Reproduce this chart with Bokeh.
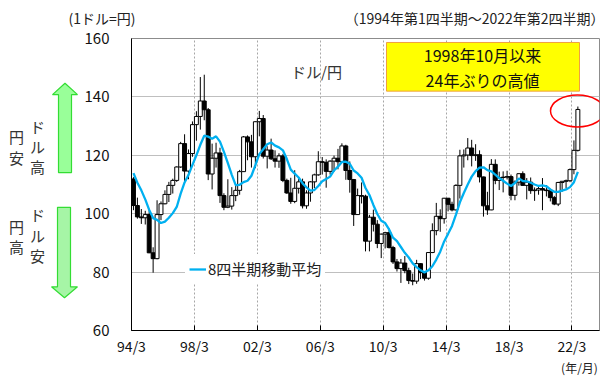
from bokeh.plotting import figure
from bokeh.layouts import column, row
from bokeh.models import ColumnDataSource, FixedTicker, Label, Legend, LegendItem, Range1d
from bokeh.embed import file_html
from bokeh.resources import INLINE
from bokeh.core.properties import value

FONT = "Noto Sans CJK JP"

# ---- data (USD/JPY quarterly, 1994Q1 - 2022Q2) ----
open_ = [111.9, 102.8, 98.9, 98.6, 99.7, 86.6, 84.6, 99.7,
         103.4, 106.6, 109.7, 111.4, 116.0, 124.0, 114.6, 120.6,
         130.5, 133.3, 138.6, 135.6, 113.6, 119.0, 120.8, 106.2,
         102.2, 102.6, 106.2, 108.0, 114.4, 126.3, 124.6, 119.5,
         131.5, 132.6, 119.7, 121.8, 118.8, 118.0, 119.8, 111.4,
         107.1, 104.2, 108.7, 110.9, 102.7, 107.1, 110.9, 113.3,
         117.8, 117.6, 114.5, 118.0, 119.0, 117.8, 123.2, 114.8,
         111.7, 99.7, 106.2, 106.0, 90.6, 98.8, 96.4, 89.8,
         93.0, 93.5, 88.4, 83.5, 81.2, 83.1, 80.5, 77.1,
         76.9, 82.9, 79.8, 77.9, 86.7, 94.2, 99.1, 98.3,
         105.3, 103.2, 101.3, 109.7, 119.8, 120.1, 122.5, 119.9,
         120.2, 112.6, 102.7, 101.3, 116.9, 111.4, 112.4, 112.5,
         112.7, 106.3, 110.8, 113.7, 109.7, 110.8, 107.9, 108.1,
         108.6, 108.1, 107.9, 105.5, 103.3, 110.7, 111.1, 111.3,
         115.1, 121.7]
high = [112.5, 105.5, 101.6, 101.0, 101.5, 88.5, 104.6, 104.2,
        108.0, 110.9, 112.0, 116.2, 124.6, 127.2, 122.0, 131.6,
        135.1, 146.8, 147.6, 136.2, 124.0, 124.3, 122.6, 107.0,
        111.8, 109.1, 110.0, 115.0, 126.6, 126.8, 127.0, 131.6,
        135.2, 133.8, 123.1, 125.7, 121.7, 120.7, 120.5, 112.0,
        112.3, 114.9, 112.2, 112.0, 108.0, 111.2, 113.7, 121.4,
        119.4, 118.6, 118.3, 119.9, 122.2, 124.1, 123.6, 117.9,
        111.9, 108.6, 110.7, 106.5, 99.6, 101.4, 97.8, 93.2,
        93.8, 94.9, 89.0, 84.5, 84.5, 85.5, 81.5, 79.5,
        84.2, 83.0, 80.2, 86.8, 96.7, 103.7, 101.5, 105.4,
        105.4, 104.1, 110.1, 121.9, 122.0, 125.9, 125.3, 123.8,
        121.7, 112.7, 107.5, 118.7, 118.6, 114.4, 114.5, 114.7,
        113.4, 111.4, 113.8, 114.5, 112.2, 112.4, 109.0, 109.7,
        112.2, 109.8, 108.0, 106.1, 110.9, 111.1, 111.7, 115.5,
        125.1, 136.7]
low = [101.2, 98.3, 96.5, 96.3, 86.5, 79.8, 84.4, 97.8,
       103.2, 104.0, 106.9, 110.9, 115.7, 110.6, 111.8, 119.5,
       125.0, 128.8, 132.0, 111.5, 108.3, 115.8, 103.7, 101.2,
       101.9, 101.4, 104.3, 106.5, 114.3, 118.3, 115.8, 115.6,
       126.5, 118.9, 115.5, 118.4, 115.8, 115.7, 110.8, 106.8,
       103.4, 103.6, 106.9, 101.8, 101.7, 104.1, 108.8, 113.0,
       113.4, 108.9, 113.4, 114.4, 115.2, 117.6, 111.6, 107.2,
       95.8, 99.6, 103.5, 87.1, 87.1, 93.9, 88.2, 84.8,
       88.1, 88.1, 82.8, 80.2, 76.3, 79.6, 75.9, 75.5,
       76.0, 77.6, 77.1, 77.4, 86.5, 92.6, 93.8, 96.6,
       100.8, 100.8, 101.1, 105.2, 115.8, 118.3, 116.2, 118.1,
       110.7, 99.0, 99.6, 101.2, 110.1, 108.1, 107.3, 111.7,
       104.6, 104.6, 109.6, 109.6, 104.9, 106.8, 104.4, 106.5,
       101.2, 105.9, 104.2, 102.9, 102.6, 107.5, 108.7, 110.8,
       113.5, 121.3]
close = [102.8, 98.9, 98.6, 99.7, 86.6, 84.6, 99.7, 103.4,
         106.6, 109.7, 111.4, 116.0, 124.0, 114.6, 120.6, 130.5,
         133.3, 138.6, 135.6, 113.6, 119.0, 120.8, 106.2, 102.2,
         102.6, 106.2, 108.0, 114.4, 126.3, 124.6, 119.5, 131.5,
         132.6, 119.7, 121.8, 118.8, 118.0, 119.8, 111.4, 107.1,
         104.2, 108.7, 110.9, 102.7, 107.1, 110.9, 113.3, 117.8,
         117.6, 114.5, 118.0, 119.0, 117.8, 123.2, 114.8, 111.7,
         99.7, 106.2, 106.0, 90.6, 98.8, 96.4, 89.8, 93.0,
         93.5, 88.4, 83.5, 81.2, 83.1, 80.5, 77.1, 76.9,
         82.9, 79.8, 77.9, 86.7, 94.2, 99.1, 98.3, 105.3,
         103.2, 101.3, 109.7, 119.8, 120.1, 122.5, 119.9, 120.2,
         112.6, 102.7, 101.3, 116.9, 111.4, 112.4, 112.5, 112.7,
         106.3, 110.8, 113.7, 109.7, 110.8, 107.9, 108.1, 108.6,
         108.1, 107.9, 105.5, 103.3, 110.7, 111.1, 111.3, 115.1,
         121.7, 135.7]
ma8 = [113.9, 110.6, 108.0, 104.9, 101.3, 98.5, 97.9, 96.8,
       97.3, 98.6, 100.2, 102.3, 106.9, 110.7, 113.3, 116.7,
       120.0, 123.6, 126.7, 126.4, 125.7, 126.5, 124.7, 121.2,
       117.3, 113.3, 109.8, 109.9, 110.8, 111.3, 113.0, 116.6,
       120.4, 122.1, 123.8, 124.4, 123.3, 122.7, 121.7, 118.7,
       115.1, 113.7, 112.4, 110.4, 109.0, 107.9, 108.1, 109.5,
       111.1, 111.9, 112.7, 114.8, 116.1, 117.7, 117.8, 117.1,
       114.8, 113.8, 112.3, 108.8, 106.4, 103.0, 99.9, 97.6,
       96.8, 94.6, 91.8, 90.6, 88.6, 86.6, 85.0, 83.0,
       81.7, 80.6, 79.9, 80.6, 82.0, 84.3, 87.0, 90.5,
       93.1, 95.8, 99.7, 103.9, 107.1, 110.0, 112.7, 114.6,
       115.8, 115.9, 114.9, 114.5, 113.4, 112.2, 111.3, 110.3,
       109.5, 110.5, 112.1, 111.2, 111.1, 110.6, 110.0, 109.5,
       109.7, 109.4, 108.3, 107.5, 107.5, 107.9, 108.3, 109.1,
       110.8, 114.3]
tick_labels = ["94/3", "98/3", "02/3", "06/3", "10/3", "14/3", "18/3", "22/3"]
y_ticks = [60, 80, 100, 120, 140, 160]

n = len(close)
xs = [i + 0.5 for i in range(n)]
tick_pos = [16 * i for i in range(len(tick_labels))]

src = ColumnDataSource(dict(
    x=xs, o=open_, h=high, l=low, c=close,
    top=[max(a, b) for a, b in zip(open_, close)],
    bot=[min(a, b) for a, b in zip(open_, close)],
    col=["white" if c >= o else "black" for o, c in zip(open_, close)],
))

# ---------------- geometry of the page ----------------
W, H = 606, 376
HEAD_H = 28          # header strip height
FOOT_H = 18          # footer strip height
LEFT_W = 80          # left strip (arrows) width
MAIN_W = W - LEFT_W
MAIN_H = H - HEAD_H - FOOT_H
FRAME_L, FRAME_R = 131, 599
FRAME_T, FRAME_B = 38, 332
BORDER_T = FRAME_T - HEAD_H
BORDER_B = (H - FOOT_H) - FRAME_B
XMAX = 119


def bare_fig(width, height, x0, x1, y0, y1, bt=0, bb=0):
    f = figure(width=width, height=height, output_backend="svg", toolbar_location=None,
               x_range=Range1d(x0, x1), y_range=Range1d(y0, y1),
               x_axis_type=None, y_axis_type=None,
               min_border=0, min_border_left=0, min_border_right=0,
               min_border_top=bt, min_border_bottom=bb,
               background_fill_color="white", border_fill_color="white")
    f.outline_line_color = None
    f.grid.visible = False
    return f

# ---------------- header strip ----------------
head = bare_fig(W, HEAD_H, 0, W, HEAD_H, 0)
head.text(x=[68], y=[17], text=["(1ドル=円)"], text_align="left", text_baseline="middle",
          text_font=value(FONT), text_font_size="14px", text_color="#222222")
head.text(x=[604], y=[17], text=["（1994年第1四半期～2022年第2四半期）"], text_align="right",
          text_baseline="middle", text_font=value(FONT), text_font_size="14px",
          text_color="#222222")

# ---------------- left strip (arrows + captions), frame aligned with main frame ----------------
left = bare_fig(LEFT_W, MAIN_H, 0, LEFT_W, FRAME_B, FRAME_T, bt=BORDER_T, bb=BORDER_B)
up = [(64.5, 83), (77, 94.5), (71, 94.5), (71, 173), (58, 173), (58, 94.5), (52, 94.5)]
dn = [(57, 208), (70, 208), (70, 288), (77, 288), (64, 299), (51, 288), (57, 288)]
left.patches(xs=[[a for a, b in up], [a for a, b in dn]],
             ys=[[b for a, b in up], [b for a, b in dn]],
             fill_color=["#99FF99", "#A6F5A6"], line_color="#33DD33", line_width=1.2)
chars = [("円", 16, 137), ("安", 16, 158), ("ド", 37, 127), ("ル", 37, 147), ("高", 37, 167),
         ("円", 16, 227), ("高", 16, 247), ("ド", 37, 215), ("ル", 37, 236), ("安", 37, 256)]
left.text(x=[c[1] for c in chars], y=[c[2] for c in chars], text=[c[0] for c in chars],
          text_align="center", text_baseline="middle", text_font=value(FONT),
          text_font_size="15px", text_color="#333333")

# ---------------- main chart ----------------
p = figure(width=MAIN_W, height=MAIN_H, output_backend="svg", toolbar_location=None,
           x_range=Range1d(0, XMAX), y_range=Range1d(60, 160),
           min_border_left=FRAME_L - LEFT_W, min_border_right=W - FRAME_R,
           min_border_top=BORDER_T, min_border_bottom=BORDER_B,
           background_fill_color="white", border_fill_color="white")
p.outline_line_color = "#8c8c8c"

FW, FH = float(FRAME_R - FRAME_L), float(FRAME_B - FRAME_T)
def dx(px):
    return (px - FRAME_L) / (FW / XMAX)
def dy(py):
    return 160 - (py - FRAME_T) / (FH / 100.0)

p.xaxis.ticker = FixedTicker(ticks=tick_pos)
p.xaxis.major_label_overrides = {t: s for t, s in zip(tick_pos, tick_labels)}
p.xaxis.major_tick_in = 5
p.xaxis.major_tick_out = 0
p.xaxis.minor_tick_line_color = None
p.xaxis.axis_line_color = "black"
p.xaxis.major_tick_line_color = "black"
p.xaxis.major_label_standoff = 5
p.xaxis.major_label_text_font = FONT
p.xaxis.major_label_text_font_size = "14px"
p.xaxis.major_label_text_color = "#111111"

p.yaxis.ticker = FixedTicker(ticks=y_ticks)
p.yaxis.major_tick_in = 0
p.yaxis.major_tick_out = 0
p.yaxis.minor_tick_line_color = None
p.yaxis.axis_line_color = "black"
p.yaxis.major_label_standoff = 22
p.yaxis.major_label_text_font = FONT
p.yaxis.major_label_text_font_size = "15px"
p.yaxis.major_label_text_color = "#111111"

p.xgrid.ticker = FixedTicker(ticks=tick_pos)
p.xgrid.grid_line_color = "#a6a6a6"
p.xgrid.grid_line_dash = "2 2"
p.ygrid.grid_line_color = "#bfbfbf"

# candles
p.segment(x0="x", y0="h", x1="x", y1="l", source=src, line_color="black", line_width=1)
p.vbar(x="x", width=1.0, top="top", bottom="bot", source=src,
       fill_color="col", line_color="black", line_width=1)

# moving average
ma_r = p.line(xs, ma8, line_color="#00B0F0", line_width=2.3)

legend = Legend(items=[LegendItem(label="8四半期移動平均", renderers=[ma_r])],
                location=(54, 47), orientation="vertical",
                label_text_font=FONT, label_text_font_size="15px", label_text_color="#222222",
                glyph_width=17, glyph_height=20, label_height=20, label_standoff=2,
                padding=4, margin=0, spacing=0,
                border_line_alpha=0, background_fill_color="white", background_fill_alpha=1.0)
p.add_layout(legend)

# yellow call-out box
p.quad(left=dx(386), right=dx(579), top=dy(42), bottom=dy(91),
       fill_color="#FFFF00", line_color="#F0A040", line_width=1)
for txt, py in [("1998年10月以来", 55), ("24年ぶりの高値", 80)]:
    p.add_layout(Label(x=dx(482), y=dy(py), text=txt, text_align="center",
                       text_baseline="middle", text_font=FONT,
                       text_font_size="16px", text_color="#111111"))

# red ellipse around latest value
p.ellipse(x=dx(577), y=dy(111), width=54 / (FW / XMAX), height=32 / (FH / 100.0),
          fill_alpha=0, line_color="#FF0000", line_width=1.5)

# series name
p.add_layout(Label(x=dx(316), y=dy(71), text="ドル/円", text_align="center",
                   text_baseline="middle", text_font=FONT,
                   text_font_size="15px", text_color="#333333"))

# ---------------- footer strip (unit caption) ----------------
foot = bare_fig(W, FOOT_H, 0, W, H, H - FOOT_H)
foot.text(x=[579], y=[367], text=["(年/月)"], text_align="center", text_baseline="middle",
          text_font=value(FONT), text_font_size="12px", text_color="#222222")

layout = column(head, row(left, p, spacing=0), foot, spacing=0)
open("out.html", "w").write(file_html(layout, INLINE))
